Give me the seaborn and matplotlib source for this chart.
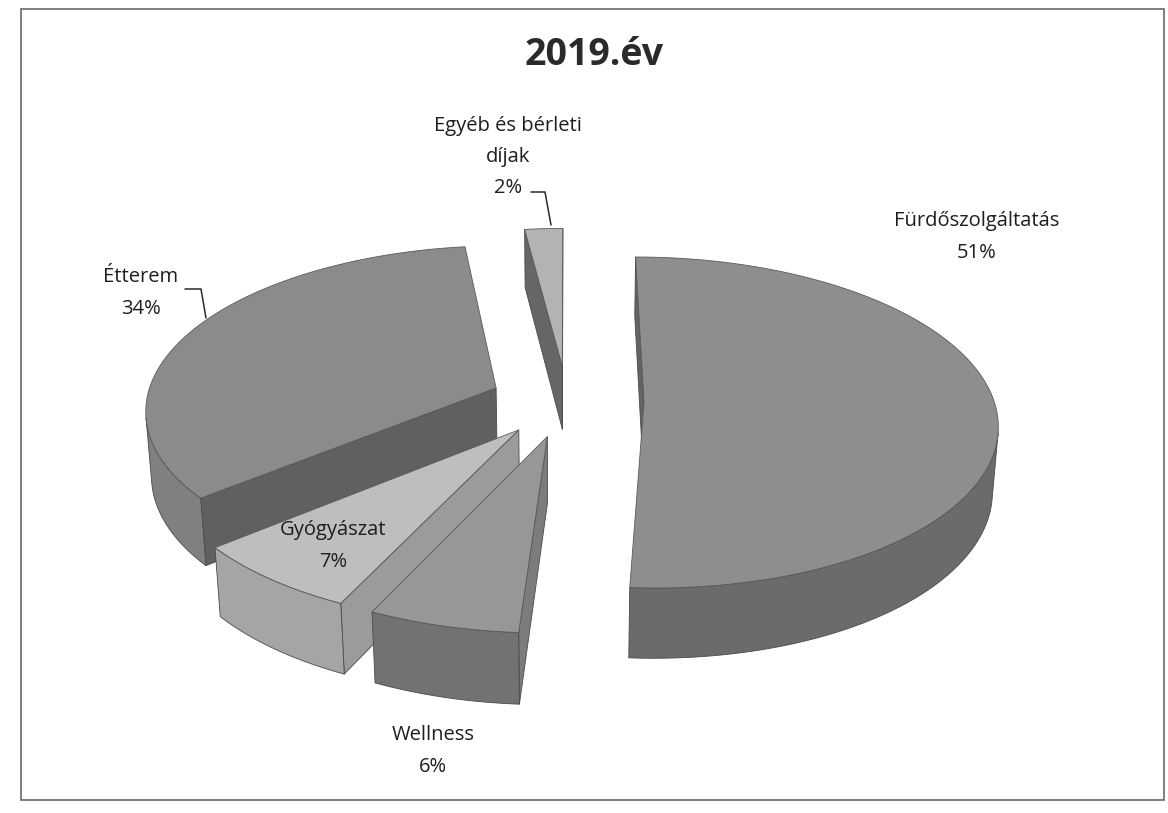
import numpy as np
import matplotlib
matplotlib.use("Agg")
import matplotlib.pyplot as plt
from matplotlib.lines import Line2D
from matplotlib.patches import Rectangle
import seaborn as sns

# ---- data -------------------------------------------------------------
categories = ["Fürdőszolgáltatás", "Wellness", "Gyógyászat", "Étterem",
              "Egyéb és bérleti\ndíjak"]
shares = [51, 6, 7, 34, 2]
chart_title = "2019.év"

# ---- styling ----------------------------------------------------------
top_colors = ["#8e8e8e", "#979797", "#bebebe", "#8b8b8b", "#b3b3b3"]
side_colors = ["#6b6b6b", "#727272", "#a5a5a5", "#808080", "#7a7a7a"]
cut_colors = ["#646464", "#7c7c7c", "#9b9b9b", "#606060", "#666666"]

# label anchor (pixel x, pixel y of text centre) and optional leader path
label_pos = [(977, 237), (433, 751), (333, 546), (141, 293), (508, 157)]
leaders = {3: [(185, 289), (201, 289), (206, 318)],
           4: [(531, 192), (545, 192), (551, 225)]}

sns.set_theme(style="white")
plt.rcParams["font.family"] = ["Open Sans", "DejaVu Sans"]

W, H = 1168, 813
PX = 350.0             # pixels per pie radius at the centre depth
CX, CY = 567.0, 401.0  # pixel position of the pie centre (top face)

ELEV = np.radians(27.7)
DIST = 7.2
THICK = 0.21
EXPLODE = 0.22
START = 90.0

CAM = np.array([0.0, -DIST * np.cos(ELEV), DIST * np.sin(ELEV)])


def project(x, y, z):
    x, y, z = np.asarray(x, float), np.asarray(y, float), np.asarray(z, float)
    v = y * np.sin(ELEV) + z * np.cos(ELEV)
    w = y * np.cos(ELEV) - z * np.sin(ELEV)
    s = DIST / (DIST + w)
    return x * s, v * s


def faces_visible(normal, point):
    return np.dot(normal, CAM - np.asarray(point)) > 0


fig = plt.figure(figsize=(W / 100, H / 100), dpi=100)
ax = fig.add_axes([0, 0, 1, 1])
ax.set_xlim(-CX / PX, (W - CX) / PX)
ax.set_ylim(-(H - CY) / PX, CY / PX)
ax.axis("off")

# slice angles, clockwise from 12 o'clock
angles = []
cum = 0.0
for v in shares:
    a0 = START - cum * 3.6
    a1 = a0 - v * 3.6
    angles.append((np.radians(a1), np.radians(a0)))
    cum += v


def draw_slice(i):
    lo, hi = angles[i]
    mid = 0.5 * (lo + hi)
    ox, oy = EXPLODE * np.cos(mid), EXPLODE * np.sin(mid)
    n = max(3, int(np.degrees(hi - lo) * 2) + 2)
    t = np.linspace(lo, hi, n)
    rx, ry = ox + np.cos(t), oy + np.sin(t)
    ec_kw = dict(linewidth=0.6, joinstyle="round")

    # radial cut faces
    for ang, nrm in ((lo, (np.sin(lo), -np.cos(lo), 0.0)),
                     (hi, (-np.sin(hi), np.cos(hi), 0.0))):
        ex, ey = ox + np.cos(ang), oy + np.sin(ang)
        pc = (ox + 0.5 * np.cos(ang), oy + 0.5 * np.sin(ang), -THICK / 2)
        if faces_visible(np.array(nrm), pc):
            xs = [ox, ex, ex, ox]
            ys = [oy, ey, ey, oy]
            zs = [0, 0, -THICK, -THICK]
            X, Y = project(xs, ys, zs)
            ax.fill(X, Y, facecolor=cut_colors[i], edgecolor="#4a4a4a", **ec_kw)

    # outer curved side, only the parts turned to the viewer
    tm = 0.5 * (t[:-1] + t[1:])
    vis = np.array([faces_visible(np.array([np.cos(a), np.sin(a), 0.0]),
                                  (ox + np.cos(a), oy + np.sin(a), -THICK / 2))
                    for a in tm])
    k = 0
    while k < len(vis):
        if vis[k]:
            j = k
            while j < len(vis) and vis[j]:
                j += 1
            seg = slice(k, j + 1)
            xs = np.concatenate([rx[seg], rx[seg][::-1]])
            ys = np.concatenate([ry[seg], ry[seg][::-1]])
            zs = np.concatenate([np.zeros(j + 1 - k), np.full(j + 1 - k, -THICK)])
            X, Y = project(xs, ys, zs)
            ax.fill(X, Y, facecolor=side_colors[i], edgecolor="#4a4a4a", **ec_kw)
            k = j
        else:
            k += 1

    # top face
    xs = np.concatenate([[ox], rx])
    ys = np.concatenate([[oy], ry])
    X, Y = project(xs, ys, np.zeros_like(xs))
    ax.fill(X, Y, facecolor=top_colors[i], edgecolor="#5a5a5a", **ec_kw)


# painter's order: farthest slices first
depth = []
for i, (lo, hi) in enumerate(angles):
    mid = 0.5 * (lo + hi)
    depth.append((EXPLODE + 0.5) * np.sin(mid))
for i in np.argsort(depth)[::-1]:
    draw_slice(i)

# ---- labels -----------------------------------------------------------
txt_color = "#1e1e1e"
for i, (name, val) in enumerate(zip(categories, shares)):
    px, py = label_pos[i]
    fig.text(px / W, 1 - py / H, f"{name}\n{val}%", ha="center", va="center",
             fontsize=14.5, color=txt_color, linespacing=1.75)

for i, path in leaders.items():
    xs = [p[0] / W for p in path]
    ys = [1 - p[1] / H for p in path]
    fig.add_artist(Line2D(xs, ys, color="#2a2a2a", linewidth=1.1,
                          transform=fig.transFigure))

fig.text(594 / W, 1 - 55 / H, chart_title, ha="center", va="center",
         fontsize=27, fontweight="bold", color="#2a2a2a")

# chart frame
fig.add_artist(Rectangle((21 / W, 1 - 800 / H), (1164 - 21) / W, (800 - 9) / H,
                         transform=fig.transFigure, fill=False,
                         edgecolor="#6a6a6a", linewidth=1.2))

fig.savefig("out.png", dpi=100, facecolor="white")
